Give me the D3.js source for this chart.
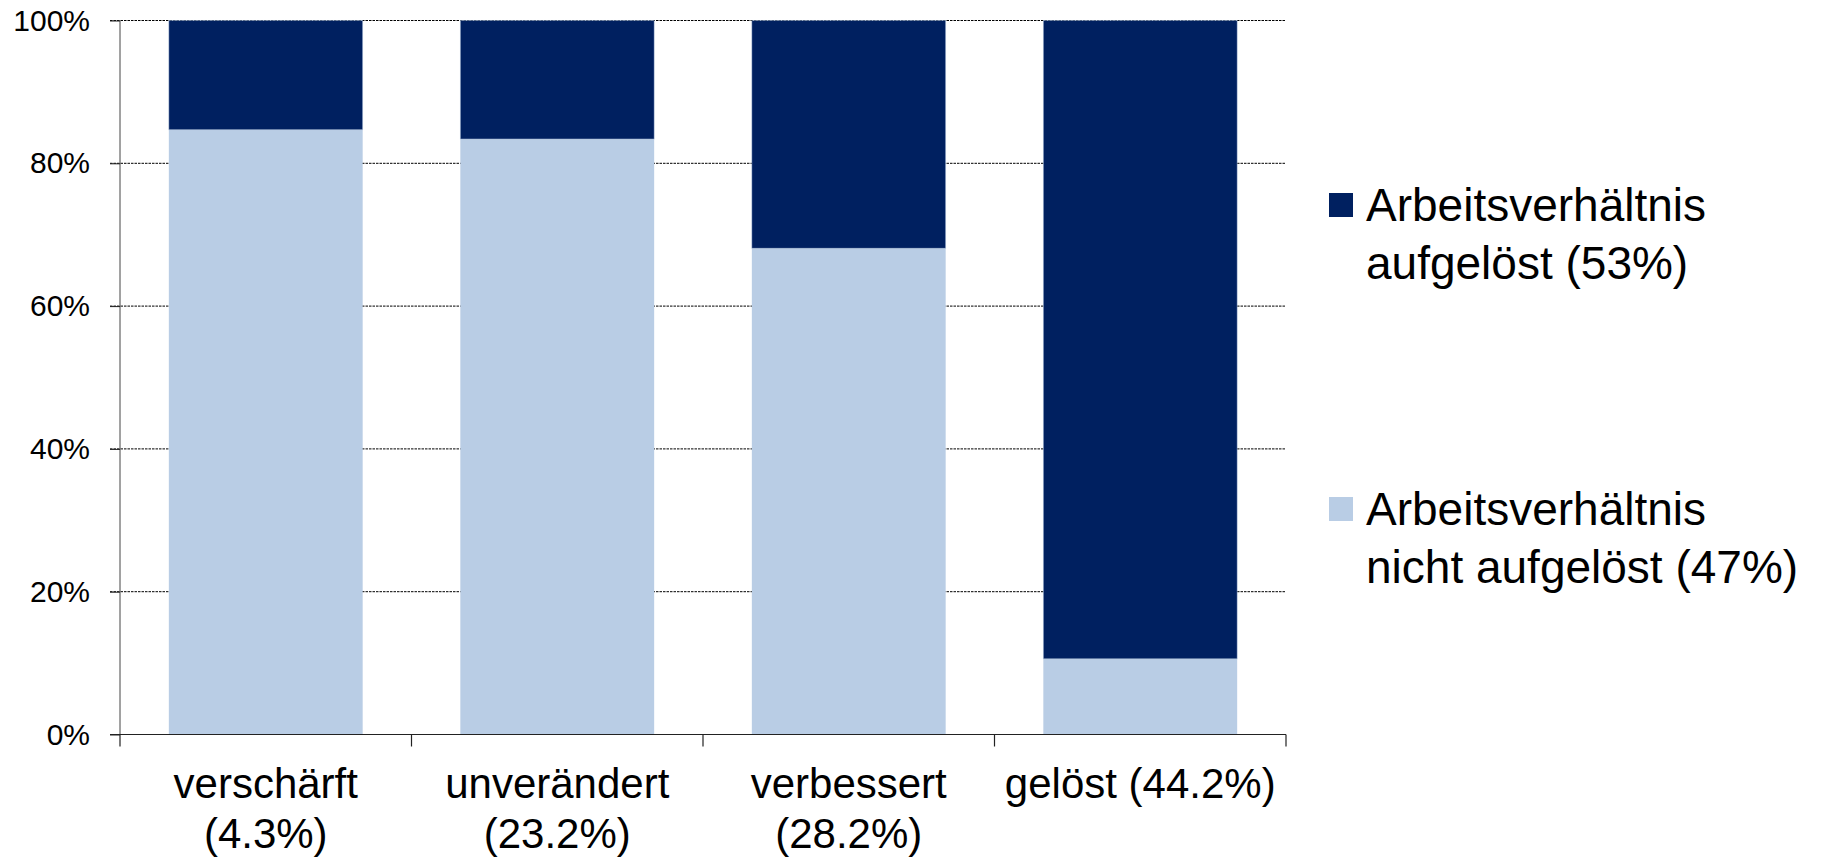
<!DOCTYPE html>
<html>
<head>
<meta charset="utf-8">
<script src="https://cdn.jsdelivr.net/npm/d3@7"></script>
<style>
  body { margin: 0; background: #fff; }
  svg text { font-family: "Liberation Sans", Arial, sans-serif; fill: #000; }
</style>
</head>
<body>
<div id="chart"></div>
<script>
// data
var categories = ["verschärft|(4.3%)", "unverändert|(23.2%)", "verbessert|(28.2%)", "gelöst (44.2%)"];
var nichtAufgeloest = [84.7, 83.4, 68.1, 10.6];
var aufgeloest = [15.3, 16.6, 31.9, 89.4];
var seriesNames = ["Arbeitsverhältnis|aufgelöst (53%)", "Arbeitsverhältnis|nicht aufgelöst (47%)"];
var yTicks = [0, 20, 40, 60, 80, 100];

var colDark = "#002060", colLight = "#b9cde5";

var W = 1821, H = 857;
var svg = d3.select("#chart").append("svg").attr("width", W).attr("height", H);

var x = d3.scaleBand().domain(d3.range(categories.length)).range([120, 1286])
  .paddingInner(0.335).paddingOuter(0.1675);
var y = d3.scaleLinear().domain([0, 100]).range([734.5, 20.5]);

// gridlines
svg.append("g").selectAll("line").data(yTicks.filter(function(d){ return d > 0; })).enter().append("line")
  .attr("x1", 110).attr("x2", 1286)
  .attr("y1", function(d){ return y(d); }).attr("y2", function(d){ return y(d); })
  .attr("stroke", "#000").attr("stroke-width", 1).attr("stroke-dasharray", "2.5,1");

// stacked bars
var rows = categories.map(function(c, i){ return {i: i, lo: nichtAufgeloest[i], hi: aufgeloest[i]}; });
var g = svg.append("g");
g.selectAll("rect.lo").data(rows).enter().append("rect")
  .attr("x", function(d){ return x(d.i); }).attr("width", x.bandwidth())
  .attr("y", function(d){ return y(d.lo); })
  .attr("height", function(d){ return y(0) - y(d.lo); })
  .attr("fill", colLight);
g.selectAll("rect.hi").data(rows).enter().append("rect")
  .attr("x", function(d){ return x(d.i); }).attr("width", x.bandwidth())
  .attr("y", function(d){ return y(d.lo + d.hi); })
  .attr("height", function(d){ return y(d.lo) - y(d.lo + d.hi); })
  .attr("fill", colDark)
  .attr("stroke", "rgba(185,205,229,0.6)").attr("stroke-width", 0.8);

// y axis
var yAxis = d3.axisLeft(y).tickValues(yTicks).tickSize(10).tickFormat(function(d){ return d + "%"; });
var ya = svg.append("g").attr("transform", "translate(120,0)").call(yAxis);
ya.select(".domain").attr("stroke", "#444").attr("d", "M0," + y(100) + "V" + y(0));
ya.selectAll(".tick line").attr("stroke", "#222");
ya.selectAll(".tick text").attr("x", -30).attr("font-size", 30).attr("font-family", "Liberation Sans, Arial, sans-serif")
  .attr("fill", "#000");

// x axis baseline + category separators
svg.append("line").attr("x1", 110).attr("x2", 1286).attr("y1", y(0)).attr("y2", y(0))
  .attr("stroke", "#222").attr("stroke-width", 1.2);
var seps = d3.range(categories.length + 1).map(function(i){ return i < categories.length ? x(i) - x.step() * x.paddingOuter() : 1286; });
svg.append("g").selectAll("line").data(seps).enter().append("line")
  .attr("x1", function(d){ return d; }).attr("x2", function(d){ return d; })
  .attr("y1", y(0)).attr("y2", y(0) + 12)
  .attr("stroke", "#222").attr("stroke-width", 1.2);

// category labels
svg.append("g").selectAll("text").data(categories).enter().append("text")
  .attr("text-anchor", "middle").attr("font-size", 42)
  .each(function(d, i){
    var t = d3.select(this), cx = x(i) + x.bandwidth() / 2;
    d.split("|").forEach(function(line, k){
      t.append("tspan").attr("x", cx).attr("y", 798 + k * 50).text(line);
    });
  });

// legend
var leg = svg.append("g").selectAll("g").data(seriesNames).enter().append("g")
  .attr("transform", function(d, i){ return "translate(1329," + (193 + i * 304) + ")"; });
leg.append("rect").attr("width", 24).attr("height", 24)
  .attr("fill", function(d, i){ return i === 0 ? colDark : colLight; });
leg.append("text").attr("font-size", 46)
  .each(function(d){
    var t = d3.select(this);
    d.split("|").forEach(function(line, k){
      t.append("tspan").attr("x", 37).attr("y", 28 + k * 58).text(line);
    });
  });
</script>
</body>
</html>
